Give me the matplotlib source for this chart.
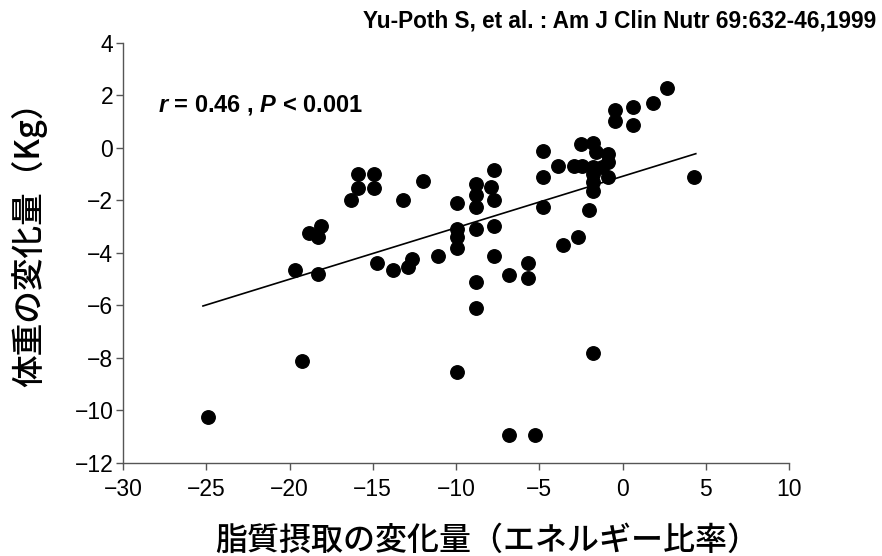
import numpy as np
import matplotlib
matplotlib.use('Agg')
import matplotlib.pyplot as plt

# 脂質摂取の変化量 (x) と 体重の変化量 (y)
fat_change = [2.7, 1.8, 0.65, 0.65, -0.45, -0.45, -2.5, -1.8, -1.6, -0.9,
              -0.85, -2.9, -2.45, -1.75, -1.25, -1.75, -1.75, -1.75, -0.9, -2.0,
              -3.85, -4.77, -4.77, -4.77, 4.3, -2.7, -3.6, -1.8, -7.72, -7.92,
              -7.72, -8.8, -8.8, -8.8, -9.96, -9.96, -9.96, -9.96, -8.8, -7.72,
              -7.72, -8.82, -8.82, -9.96, -6.8, -5.66, -5.66, -6.8, -5.24, -11.06,
              -12.66, -12.9, -13.8, -14.75, -11.96, -13.16, -14.95, -14.95, -15.87, -15.87,
              -16.31, -18.13, -18.81, -18.31, -19.67, -18.31, -24.9, -19.27]
weight_change = [2.3, 1.73, 1.57, 0.88, 1.45, 1.03, 0.15, 0.18, -0.15, -0.23,
                 -0.52, -0.67, -0.67, -0.72, -0.72, -0.98, -1.3, -1.62, -1.09, -2.36,
                 -0.69, -0.11, -1.10, -2.25, -1.10, -3.40, -3.68, -7.8, -0.84, -1.5,
                 -1.98, -1.37, -1.8, -2.25, -2.11, -3.1, -3.4, -3.82, -3.1, -2.97,
                 -4.1, -5.1, -6.1, -8.52, -4.82, -4.39, -4.95, -10.93, -10.93, -4.11,
                 -4.24, -4.53, -4.66, -4.39, -1.26, -1.98, -0.98, -1.54, -0.98, -1.54,
                 -1.98, -2.97, -3.25, -3.40, -4.66, -4.80, -10.24, -8.10]

# regression line as drawn in the figure
fit_slope = 0.196
fit_intercept = -1.08
fit_range = [-25.2, 4.4]

x_ticks = [-30, -25, -20, -15, -10, -5, 0, 5, 10]
y_ticks = [-12, -10, -8, -6, -4, -2, 0, 2, 4]

xlabel = '脂質摂取の変化量（エネルギー比率）'
ylabel = '体重の変化量（Kg）'
source = 'Yu-Poth S, et al. : Am J Clin Nutr 69:632-46,1999'

plt.rcParams['font.family'] = ['Liberation Sans', 'Noto Sans CJK JP', 'DejaVu Sans']
plt.rcParams['mathtext.fontset'] = 'custom'
plt.rcParams['mathtext.it'] = 'Liberation Sans:italic:bold'
plt.rcParams['mathtext.rm'] = 'Liberation Sans:bold'

fig = plt.figure(figsize=(8.82, 5.56), dpi=100)
ax = fig.add_axes([0.1395, 0.1673, 0.7551, 0.7554])

ax.plot(fat_change, weight_change, 'o', color='black', markersize=9.7, zorder=3)

xs = np.array(fit_range)
ax.plot(xs, fit_intercept + fit_slope * xs, color='black', linewidth=1.2, zorder=2)

ax.set_xlim(-30, 10)
ax.set_ylim(-12, 4)
ax.set_xticks(x_ticks)
ax.set_yticks(y_ticks)

for s in ['top', 'right']:
    ax.spines[s].set_visible(False)
for s in ['left', 'bottom']:
    ax.spines[s].set_color('#555555')
    ax.spines[s].set_linewidth(1.0)

ax.tick_params(direction='out', length=5, width=1, color='#555555', labelsize=16.5)
ax.tick_params(axis='x', pad=6)
ax.tick_params(axis='y', pad=2)

jp = ['Noto Sans CJK JP', 'DejaVu Sans']
fig.text(0.2438, 0.027, xlabel, fontsize=23, family=jp, fontweight='medium',
         ha='left', va='center')
fig.text(0.033, 0.575, ylabel, fontsize=23.5, family=jp, fontweight='medium',
         ha='center', va='center', rotation=90)

fig.text(0.994, 0.962, source, fontsize=16.3, fontweight='bold', ha='right', va='center')

ax.text(0.053, 0.852, r'$r$ = 0.46 , $P$ < 0.001', transform=ax.transAxes,
        fontsize=17, fontweight='bold', ha='left', va='center')

fig.savefig('out.png', dpi=100)
